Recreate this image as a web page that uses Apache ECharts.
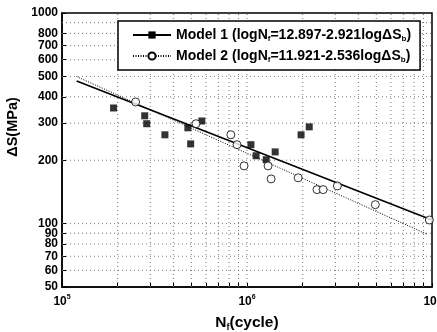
<!DOCTYPE html>
<html>
<head>
<meta charset="utf-8">
<script src="https://cdn.jsdelivr.net/npm/echarts@6/dist/echarts.min.js"></script>
<style>
  html, body { margin: 0; padding: 0; background: #fff; }
  #chart { width: 437px; height: 332px; }
</style>
</head>
<body>
<div id="chart"></div>
<script>
// data (N_f in cycles, stress range in MPa)
const model1Points = [
  [1.90e5, 354], [2.80e5, 325], [2.87e5, 298], [3.60e5, 264], [4.79e5, 285],
  [4.96e5, 239], [5.70e5, 307], [1.05e6, 237], [1.12e6, 210], [1.27e6, 201],
  [1.42e6, 219], [1.96e6, 264], [2.17e6, 288]
];
const model2Points = [
  [2.50e5, 378], [5.30e5, 298], [8.18e5, 264], [8.83e5, 237], [9.64e5, 188],
  [1.30e6, 188], [1.35e6, 163], [1.89e6, 165], [2.39e6, 145], [2.58e6, 145],
  [3.08e6, 151], [4.94e6, 123], [9.68e6, 104]
];
// fitted S-N lines, end points
const model1Line = [[1.2e5, 475], [1.0e7, 104]];
const model2Line = [[1.2e5, 499], [9.4e6, 89]];

const xTicks = [1e5, 2e5, 3e5, 4e5, 5e5, 6e5, 7e5, 8e5, 9e5,
  1e6, 2e6, 3e6, 4e6, 5e6, 6e6, 7e6, 8e6, 9e6, 1e7];
const xLabels = [1e5, 1e6, 1e7];
const yTicks = [50, 60, 70, 80, 90, 100, 200, 300, 400, 500, 600, 700, 800, 900, 1000];

const legendNames = {
  'Model 1': 'Model 1 (logN{s|f}=12.897-2.921logΔS{s|b})',
  'Model 2': 'Model 2 (logN{s|f}=11.921-2.536logΔS{s|b})'
};

const font = 'Liberation Sans, Arial, sans-serif';

const xMin = xTicks[0], xMax = xTicks[xTicks.length - 1];
const yMin = yTicks[0], yMax = yTicks[yTicks.length - 1];

// dotted grid at every tick value, one small line series each
const gridStyle = { color: '#777', type: [1, 3], width: 1 };
const gridSeries = xTicks.slice(1, -1).map((v) => [[v, yMin], [v, yMax]])
  .concat(yTicks.slice(1, -1).map((v) => [[xMin, v], [xMax, v]]))
  .map((pts) => ({
    type: 'line', data: pts, silent: true, showSymbol: false, symbol: 'none',
    lineStyle: gridStyle, z: 1, emphasis: { disabled: true }, tooltip: { show: false }
  }));

const chart = echarts.init(document.getElementById('chart'));

const option = {
  animation: false,
  grid: {
    left: 62, right: 5, top: 13, bottom: 45,
    outerBoundsMode: 'none',
    show: true, borderColor: '#000', borderWidth: 1.5
  },
  legend: {
    data: ['Model 1', 'Model 2'],
    orient: 'vertical',
    left: 118, top: 21,
    padding: [6, 9, 6, 14],
    itemGap: 5,
    itemWidth: 38, itemHeight: 9,
    borderColor: '#000', borderWidth: 1.5,
    backgroundColor: '#fff',
    formatter: (name) => legendNames[name],
    textStyle: {
      fontFamily: font, fontSize: 14, fontWeight: 'bold', color: '#000', lineHeight: 16,
      rich: { s: { fontFamily: font, fontSize: 8, fontWeight: 'bold', verticalAlign: 'bottom', lineHeight: 16, padding: [7, 0, 0, 0] } }
    }
  },
  xAxis: {
    type: 'log', logBase: 10, min: xMin, max: xMax,
    name: 'N{s|f}(cycle)', nameLocation: 'middle', nameGap: 27,
    nameTextStyle: {
      fontFamily: font, fontSize: 15.5, fontWeight: 'bold', color: '#000',
      rich: { s: { fontFamily: font, fontSize: 9, fontWeight: 'bold', padding: [9, 0, 0, 0] } }
    },
    axisLine: { lineStyle: { color: '#000', width: 1.5 } },
    axisTick: { inside: true, length: 4, customValues: xTicks, lineStyle: { color: '#000' } },
    axisLabel: {
      customValues: xLabels,
      formatter: (v) => '10{sup|' + Math.round(Math.log10(v)) + '}',
      fontFamily: font, fontSize: 12, fontWeight: 'bold', color: '#000', margin: 7,
      rich: { sup: { fontFamily: font, fontSize: 7, fontWeight: 'bold', padding: [0, 0, 8, 0] } }
    },
    splitLine: { show: false }
  },
  yAxis: {
    type: 'log', logBase: 10, min: yMin, max: yMax,
    name: 'ΔS(MPa)', nameLocation: 'middle', nameGap: 41, nameRotate: 90,
    nameTextStyle: { fontFamily: font, fontSize: 14.5, fontWeight: 'bold', color: '#000', padding: [0, 0, 0, 46] },
    axisLine: { lineStyle: { color: '#000', width: 1.5 } },
    axisTick: { inside: true, length: 4, customValues: yTicks, lineStyle: { color: '#000' } },
    axisLabel: {
      customValues: yTicks,
      showMaxLabel: true, showMinLabel: true, hideOverlap: false,
      formatter: (v) => String(Math.round(v)),
      fontFamily: font, fontSize: 12, fontWeight: 'bold', color: '#000', margin: 4, lineHeight: 10
    },
    splitLine: { show: false }
  },
  series: gridSeries.concat([
    {
      name: 'Model 1', type: 'line', data: model1Line,
      symbol: 'rect', symbolSize: 8, showSymbol: false,
      itemStyle: { color: '#000' },
      lineStyle: { color: '#000', width: 1.6 }, z: 3
    },
    {
      name: 'Model 2', type: 'line', data: model2Line,
      symbol: 'circle', symbolSize: 8, showSymbol: false,
      itemStyle: { color: '#fff', borderColor: '#000', borderWidth: 1 },
      lineStyle: { color: '#000', width: 1, type: [1, 1.5] }, z: 3
    },
    {
      name: 'Model 1 data', type: 'scatter', data: model1Points,
      symbol: 'rect', symbolSize: 7,
      itemStyle: { color: '#000' }, z: 4
    },
    {
      name: 'Model 2 data', type: 'scatter', data: model2Points,
      symbol: 'circle', symbolSize: 8,
      itemStyle: { color: '#fff', borderColor: '#000', borderWidth: 1 }, z: 4
    }
  ])
};

chart.setOption(option);
</script>
</body>
</html>
